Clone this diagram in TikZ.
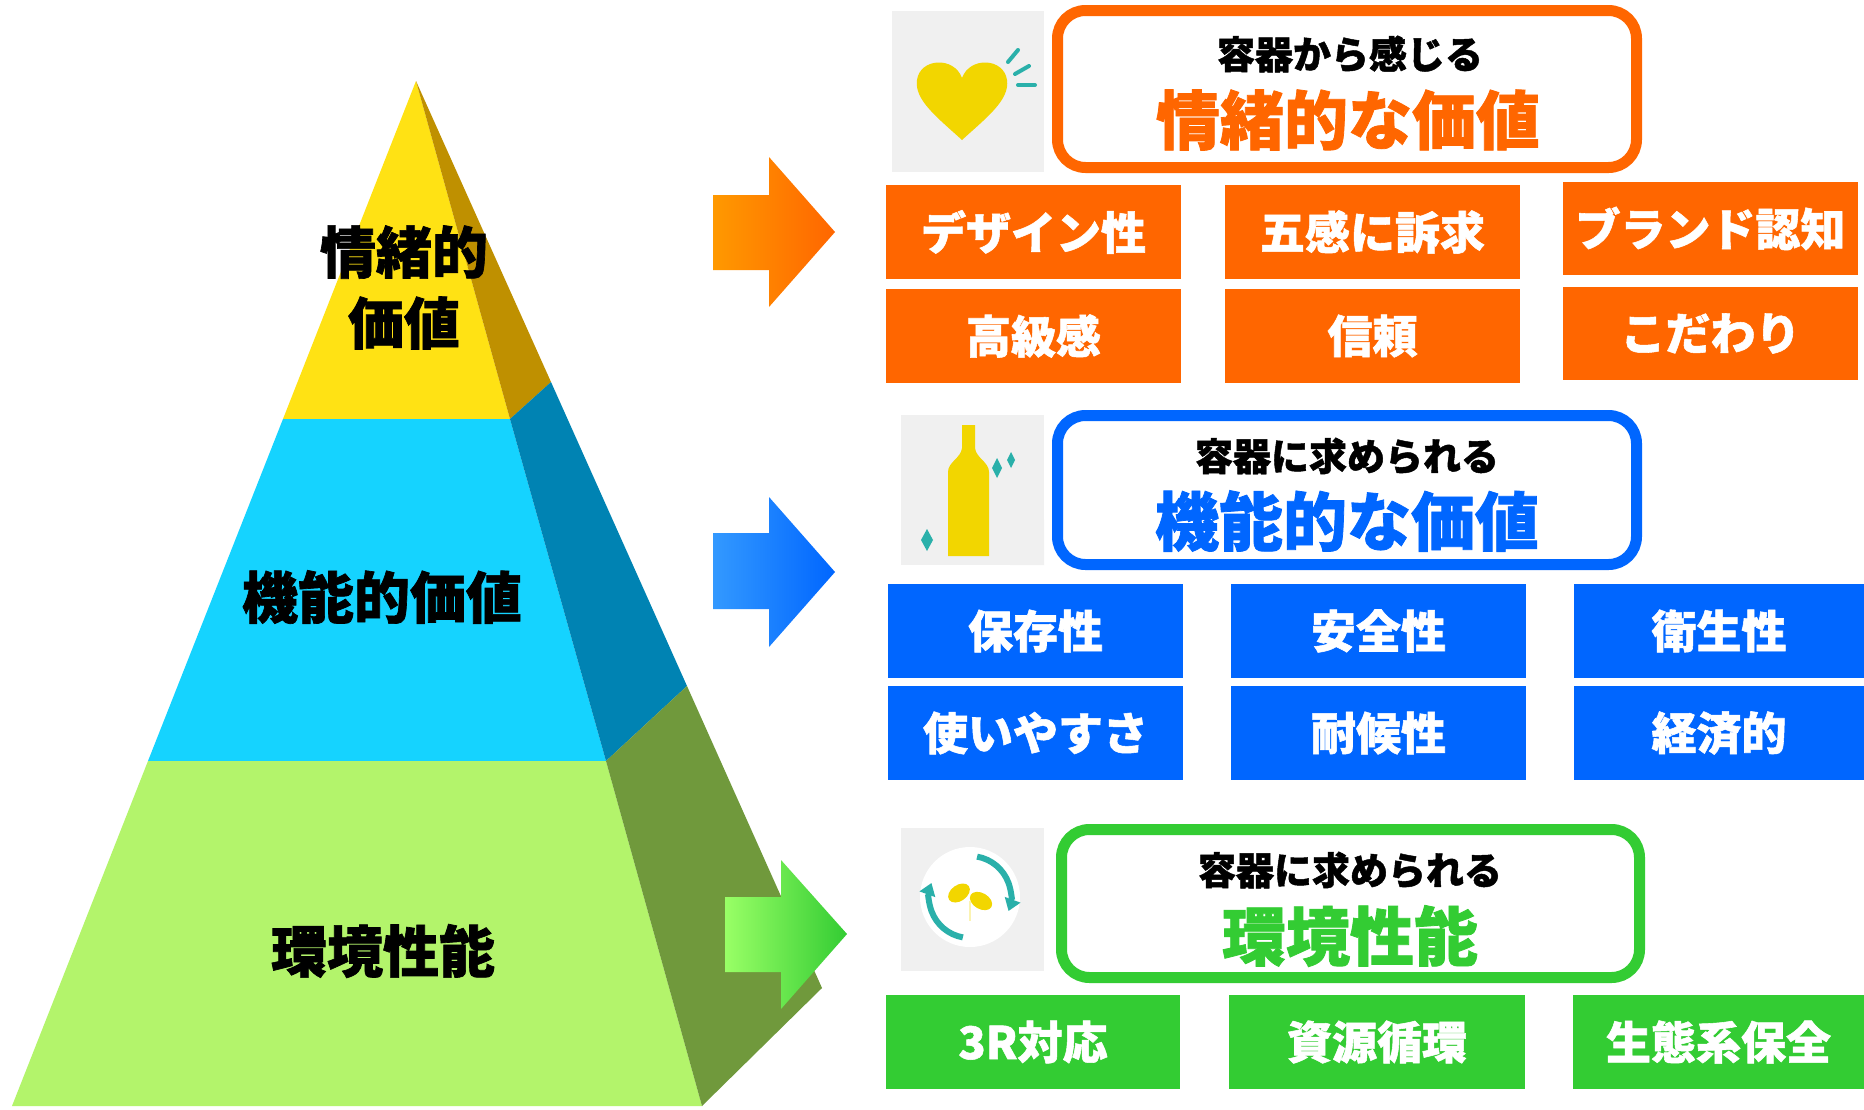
\documentclass[tikz,border=0pt]{standalone}
\usepackage{fontspec}
\newfontfamily\jp{Noto Sans CJK JP}[BoldFeatures={FakeBold=1.2}]
\usetikzlibrary{arrows.meta}
\definecolor{orng}{HTML}{FF6600}
\definecolor{orngL}{HTML}{FF9900}
\definecolor{blu}{HTML}{0066FF}
\definecolor{bluL}{HTML}{3399FF}
\definecolor{grn}{HTML}{33CC33}
\definecolor{grnL}{HTML}{99FF66}
\definecolor{pyY}{HTML}{FFE214}
\definecolor{pyYs}{HTML}{BF9000}
\definecolor{pyC}{HTML}{15D3FF}
\definecolor{pyCs}{HTML}{0083B3}
\definecolor{pyG}{HTML}{B3F46B}
\definecolor{pyGs}{HTML}{70993C}
\definecolor{teal}{HTML}{2AB0AA}
\definecolor{heart}{HTML}{F2D600}
\definecolor{iconbg}{HTML}{F0F0F0}
\begin{document}
\begin{tikzpicture}[x=1pt,y=-1pt,
  cell/.style={fill=#1, text=white, inner sep=0pt, anchor=center,
    font=\jp\bfseries\fontsize{45}{45}\selectfont},
  head/.style={draw=#1, line width=11pt, rounded corners=28pt, fill=white, inner sep=0pt},
  htop/.style={inner sep=0pt, text=black, font=\jp\bfseries\fontsize{38}{38}\selectfont},
  hbig/.style={inner sep=0pt, text=#1, font=\jp\bfseries\fontsize{64}{64}\selectfont},
  pyr/.style={inner sep=0pt, text=black, font=\jp\bfseries\fontsize{56}{56}\selectfont},
  rays/.style={draw=teal, line width=4pt, line cap=round},
  spark/.style={fill=teal}
]
\useasboundingbox (0,0) rectangle (1864,1109);
\fill[white] (0,0) rectangle (1864,1109);

% ---- pyramid: front faces ----
\fill[pyY] (416,81) -- (510,419) -- (283,419) -- cycle;
\fill[pyC] (283,419) -- (510,419) -- (606,761) -- (148,761) -- cycle;
\fill[pyG] (148,761) -- (606,761) -- (702,1106) -- (12,1106) -- cycle;
% ---- pyramid: shaded side faces ----
\fill[pyYs] (416,81) -- (551,382) -- (510,419) -- cycle;
\fill[pyCs] (510,419) -- (551,382) -- (687,686) -- (606,761) -- cycle;
\fill[pyGs] (606,761) -- (687,686) -- (822,988) -- (702,1106) -- cycle;

\node[pyr] (p1a) at (404,252) {情緒的};
\node[pyr] (p1b) at (404,323) {価値};
\node[pyr] (p2) at (382,597) {機能的価値};
\node[pyr] (p3) at (383,951) {環境性能};

% ---- block arrows ----
\shade[left color=orngL, right color=orng]
  (713,195) -- (769,195) -- (769,157) -- (835,232) -- (769,307) -- (769,270) -- (713,270) -- cycle;
\shade[left color=bluL, right color=blu]
  (713,533) -- (769,533) -- (769,497) -- (835,572) -- (769,647) -- (769,609) -- (713,609) -- cycle;
\shade[left color=grnL, right color=grn]
  (725,897) -- (781,897) -- (781,860) -- (847,934) -- (781,1009) -- (781,972) -- (725,972) -- cycle;

% ---- icon: heart ----
\fill[iconbg] (892,11) rectangle (1044,172);
\fill[heart] (962,140) .. controls (938,118) and (914,100) .. (917,80)
  .. controls (920,58) and (954,56) .. (962,78)
  .. controls (970,56) and (1004,58) .. (1007,80)
  .. controls (1010,100) and (986,118) .. (962,140) -- cycle;
\draw[rays] (1008,62) -- (1018,50);
\draw[rays] (1015,74) -- (1029,66);
\draw[rays] (1018,85) -- (1035,85);

% ---- icon: bottle ----
\fill[iconbg] (901,415) rectangle (1044,565);
\fill[white!80!gray!60] (901,415) -- (960,415) -- (1044,520) -- (1044,565) -- (1010,565) -- (901,440) -- cycle;
\fill[heart] (962,425) -- (975,425) -- (975,448) .. controls (976,458) and (989,462) .. (989,472)
  -- (989,556) -- (948,556) -- (948,472) .. controls (948,462) and (961,458) .. (962,448) -- cycle;
\fill[spark] (997,458) -- (1002,468) -- (997,478) -- (992,468) -- cycle;
\fill[spark] (1011,452) -- (1015,460) -- (1011,468) -- (1007,460) -- cycle;
\fill[spark] (927,529) -- (933,540) -- (927,551) -- (921,540) -- cycle;

% ---- icon: recycling loop ----
\fill[iconbg] (901,828) rectangle (1044,971);
\begin{scope}[shift={(970,897)}, x=1pt, y=1pt]
  \fill[white] (0,0) circle (50);
  \draw[teal, line width=6pt, -{Triangle[length=12pt,width=16pt]}] (260:41) arc (260:160:41);
  \draw[teal, line width=6pt, -{Triangle[length=12pt,width=16pt]}] (80:41) arc (80:-20:41);
  \fill[heart, rotate around={35:(-11,4)}] (-11,4) ellipse (12 and 8);
  \fill[heart, rotate around={-30:(11,-4)}] (11,-4) ellipse (12 and 8);
  \draw[white!70!heart, line width=2pt] (0,-4) -- (0,-24);
\end{scope}

% ---- header boxes ----
\node[head=orng, minimum width=579pt, minimum height=157pt] (h1) at (1347,89) {};
\node[htop] (h1a) at (1350,54) {容器から感じる};
\node[hbig=orng] (h1b) at (1348,120) {情緒的な価値};

\node[head=blu, minimum width=579pt, minimum height=149pt] (h2) at (1347,490) {};
\node[htop] (h2a) at (1347,456) {容器に求められる};
\node[hbig=blu] (h2b) at (1347,521) {機能的な価値};

\node[head=grn, minimum width=578pt, minimum height=148pt] (h3) at (1350.5,903.5) {};
\node[htop] (h3a) at (1350,870) {容器に求められる};
\node[hbig=grn] (h3b) at (1350,936) {環境性能};

% ---- value cells: emotional ----
\node[cell=orng, minimum width=295pt, minimum height=94pt] (o1) at (1033.5,232) {デザイン性};
\node[cell=orng, minimum width=295pt, minimum height=94pt] (o2) at (1372.5,232) {五感に訴求};
\node[cell=orng, minimum width=295pt, minimum height=93pt] (o3) at (1710.5,228.5) {ブランド認知};
\node[cell=orng, minimum width=295pt, minimum height=94pt] (o4) at (1033.5,336) {高級感};
\node[cell=orng, minimum width=295pt, minimum height=94pt] (o5) at (1372.5,336) {信頼};
\node[cell=orng, minimum width=295pt, minimum height=93pt] (o6) at (1710.5,333.5) {こだわり};

% ---- value cells: functional ----
\node[cell=blu, minimum width=295pt, minimum height=94pt] (b1) at (1035.5,631) {保存性};
\node[cell=blu, minimum width=295pt, minimum height=94pt] (b2) at (1378.5,631) {安全性};
\node[cell=blu, minimum width=290pt, minimum height=94pt] (b3) at (1719,631) {衛生性};
\node[cell=blu, minimum width=295pt, minimum height=94pt] (b4) at (1035.5,733) {使いやすさ};
\node[cell=blu, minimum width=295pt, minimum height=94pt] (b5) at (1378.5,733) {耐候性};
\node[cell=blu, minimum width=290pt, minimum height=94pt] (b6) at (1719,733) {経済的};

% ---- value cells: environmental ----
\node[cell=grn, minimum width=294pt, minimum height=94pt] (g1) at (1033,1042) {3R対応};
\node[cell=grn, minimum width=296pt, minimum height=94pt] (g2) at (1377,1042) {資源循環};
\node[cell=grn, minimum width=291pt, minimum height=94pt] (g3) at (1718.5,1042) {生態系保全};
\end{tikzpicture}
\end{document}
